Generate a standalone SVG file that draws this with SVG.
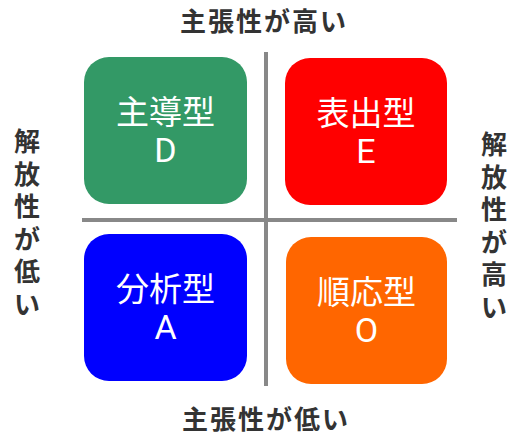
<svg xmlns="http://www.w3.org/2000/svg" width="517" height="436" viewBox="0 0 517 436">
<style>
.box{stroke:none}
.t{font-family:"Noto Sans CJK JP","Noto Sans",sans-serif;font-size:33px;fill:#ffffff;text-anchor:middle}
.l{font-family:Roboto,"Noto Sans",sans-serif;font-size:34px;fill:#ffffff;text-anchor:middle}
.lbl{font-family:"Noto Sans CJK JP",sans-serif;font-size:26px;font-weight:bold;fill:#333333;text-anchor:middle}
.ax{stroke:#888888;stroke-width:4;fill:none}
</style>
<rect width="517" height="436" fill="#ffffff"/>
<g id="connectors">
<line class="ax" x1="266" y1="52" x2="266" y2="386"/>
<line class="ax" x1="82" y1="220" x2="457" y2="220"/>
</g>
<g id="node-D">
<rect class="box" x="84" y="57" width="163" height="147" rx="25" fill="#339966"/>
<text class="t" x="165.5" y="124">主導型</text>
<text class="l" x="165.5" y="162">D</text>
</g>
<g id="node-E">
<rect class="box" x="285" y="58" width="162" height="147" rx="25" fill="#ff0000"/>
<text class="t" x="366" y="125">表出型</text>
<text class="l" x="366" y="163">E</text>
</g>
<g id="node-A">
<rect class="box" x="84" y="234" width="163" height="147" rx="25" fill="#0000ff"/>
<text class="t" x="165.5" y="301">分析型</text>
<text class="l" x="165.5" y="339">A</text>
</g>
<g id="node-O">
<rect class="box" x="286" y="237" width="161" height="147" rx="25" fill="#ff6600"/>
<text class="t" x="366.5" y="304">順応型</text>
<text class="l" x="366.5" y="342">O</text>
</g>
<g id="label-top"><text class="lbl" x="264" y="31" letter-spacing="2">主張性が高い</text></g>
<g id="label-bottom"><text class="lbl" x="266" y="429" letter-spacing="2">主張性が低い</text></g>
<g id="label-left">
<text class="lbl" x="27" y="151">解</text>
<text class="lbl" x="27" y="183.5">放</text>
<text class="lbl" x="27" y="216">性</text>
<text class="lbl" x="27" y="248.5">が</text>
<text class="lbl" x="27" y="281">低</text>
<text class="lbl" x="27" y="313.5">い</text>
</g>
<g id="label-right">
<text class="lbl" x="494" y="154">解</text>
<text class="lbl" x="494" y="186.5">放</text>
<text class="lbl" x="494" y="219">性</text>
<text class="lbl" x="494" y="251.5">が</text>
<text class="lbl" x="494" y="284">高</text>
<text class="lbl" x="494" y="316.5">い</text>
</g>
</svg>
